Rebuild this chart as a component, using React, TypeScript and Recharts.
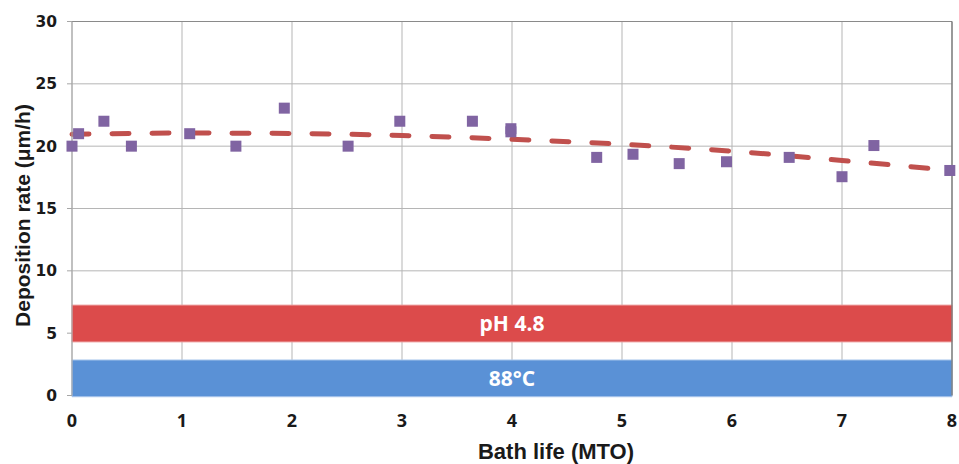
import React from 'react';
import {
  ComposedChart,
  Scatter,
  Line,
  XAxis,
  YAxis,
  CartesianGrid,
  ReferenceArea,
  ReferenceLine,
  Label,
} from 'recharts';

// Measured deposition rate vs. bath life
const bathLife = [0, 0.06, 0.29, 0.54, 1.07, 1.49, 1.93, 2.51, 2.98, 3.64, 3.99, 3.99, 4.77, 5.1, 5.52, 5.95, 6.52, 7.0, 7.29, 7.98];
const depositionRate = [20, 21, 22, 20, 21, 20, 23.05, 20, 22, 22, 21.15, 21.4, 19.1, 19.35, 18.6, 18.75, 19.1, 17.55, 20.05, 18.05];

// Polynomial trend of the measurements
const trendLife = [0, 1, 2, 3, 4, 5, 6, 7, 8];
const trendRate = [20.95, 21.05, 21.02, 20.85, 20.55, 20.15, 19.6, 18.85, 18.05];

// Process condition bands (drawn in y-axis units)
const phBand = [4.3, 7.25];
const tempBand = [-0.1, 2.85];
const phLabel = 'pH 4.8';
const tempLabel = '88°C';

const xTicks = [0, 1, 2, 3, 4, 5, 6, 7, 8];
const yTicks = [0, 5, 10, 15, 20, 25, 30];

const xTitle = 'Bath life (MTO)';
const yTitle = 'Deposition rate (μm/h)';

const points = bathLife.map((x, i) => ({ x, y: depositionRate[i] }));
const trend = trendLife.map((x, i) => ({ x, y: trendRate[i] }));

const SquareMarker = (p: any) => (
  <rect x={p.cx - 5.5} y={p.cy - 5.5} width={11} height={11} fill="#8064a2" />
);

const YTitle = (props: any) => {
  const vb = props.viewBox;
  const x = vb.x + 29.5;
  const y = vb.y + vb.height / 2 + 7;
  return (
    <text
      x={x}
      y={y}
      transform={`rotate(-90, ${x}, ${y})`}
      textAnchor="middle"
      fontFamily="'Liberation Sans', Arial, sans-serif"
      fontWeight={700}
      fontSize={21}
      fill="#1a1a1a"
    >
      {yTitle}
    </text>
  );
};

const XTitle = (props: any) => {
  const vb = props.viewBox;
  return (
    <text
      x={vb.x + vb.width / 2 + 44}
      y={vb.y + 63}
      textAnchor="middle"
      fontFamily="'Liberation Sans', Arial, sans-serif"
      fontWeight={700}
      fontSize={22}
      fill="#1a1a1a"
    >
      {xTitle}
    </text>
  );
};

const bandLabelStyle = {
  position: 'center' as const,
  fill: '#ffffff',
  fontSize: 21,
  fontWeight: 700,
  fontFamily: "'Open Sans', sans-serif",
};

export default function App() {
  return (
    <div style={{ position: 'absolute', left: 0, top: 0, background: '#fff' }}>
      <ComposedChart
        width={959}
        height={464}
        margin={{ top: 21.5, right: 7, bottom: 0, left: 0 }}
      >
        <CartesianGrid stroke="#b5b5b5" strokeWidth={1} />
        <XAxis
          type="number"
          dataKey="x"
          domain={[0, 8]}
          ticks={xTicks}
          interval={0}
          height={68.5}
          axisLine={false}
          tickLine={false}
          tickSize={0}
          tickMargin={19}
          tick={{ fontSize: 18, fontWeight: 700, fontFamily: "'Open Sans', sans-serif", fill: '#1a1a1a' }}
        >
          <Label content={XTitle} />
        </XAxis>
        <YAxis
          type="number"
          dataKey="y"
          domain={[0, 30]}
          ticks={yTicks}
          interval={0}
          width={72}
          axisLine={{ stroke: '#a6a6a6' }}
          tickLine={{ stroke: '#a6a6a6' }}
          tickSize={5}
          tickMargin={10}
          tick={{ fontSize: 15.5, fontWeight: 700, fontFamily: "'DejaVu Sans', sans-serif", fill: '#1a1a1a' }}
        >
          <Label content={YTitle} />
        </YAxis>
        <ReferenceArea
          x1={0}
          x2={8}
          y1={phBand[0]}
          y2={phBand[1]}
          fill="#dc4b4b"
          fillOpacity={1}
          stroke="#ec9c9c"
          strokeWidth={1}
          ifOverflow="visible"
          label={{ value: phLabel, ...bandLabelStyle }}
        />
        <ReferenceArea
          x1={0}
          x2={8}
          y1={tempBand[0]}
          y2={tempBand[1]}
          fill="#5a91d6"
          fillOpacity={1}
          stroke="#a9c6ec"
          strokeWidth={1}
          ifOverflow="visible"
          label={{ value: tempLabel, ...bandLabelStyle }}
        />
        <ReferenceLine y={30} stroke="#8a8a8a" strokeWidth={1.2} />
        <ReferenceLine x={8} stroke="#6f6f6f" strokeWidth={1.2} />
        <Line
          data={trend}
          dataKey="y"
          type="monotone"
          stroke="#c0504d"
          strokeWidth={5}
          strokeDasharray="17 23"
          strokeLinecap="round"
          dot={false}
          activeDot={false}
          isAnimationActive={false}
        />
        <Scatter
          data={points}
          dataKey="y"
          shape={SquareMarker}
          isAnimationActive={false}
        />
      </ComposedChart>
    </div>
  );
}
